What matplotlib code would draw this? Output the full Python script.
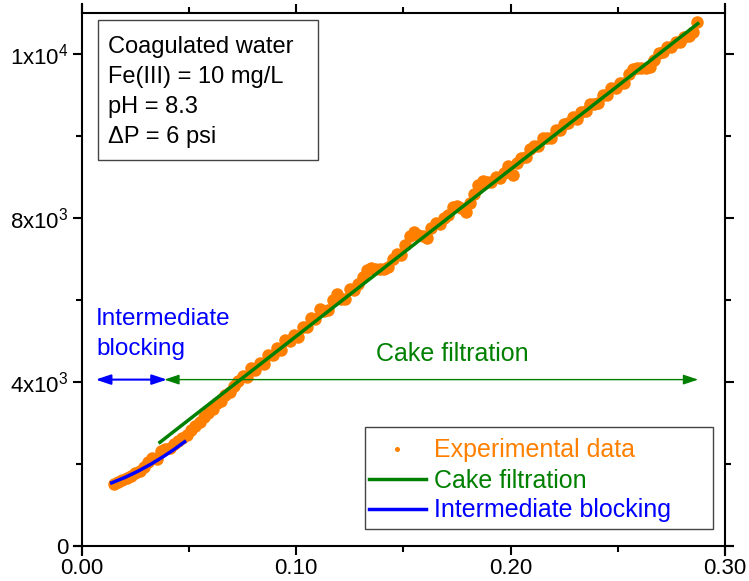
import matplotlib
matplotlib.use("Agg")
import matplotlib.pyplot as plt
from matplotlib.lines import Line2D
from matplotlib.patches import Rectangle

plt.rcParams['font.family'] = ['Liberation Sans', 'DejaVu Sans']
plt.rcParams['mathtext.fontset'] = 'custom'
plt.rcParams['mathtext.rm'] = 'Liberation Sans'
plt.rcParams['mathtext.it'] = 'Liberation Sans:italic'

# ---------------- data ----------------
x_data = [0.015, 0.017, 0.019, 0.021, 0.023, 0.025, 0.027, 0.029, 0.031, 0.033,
          0.035, 0.037, 0.039, 0.041, 0.043, 0.045, 0.047,
          0.049, 0.051, 0.053, 0.055, 0.057, 0.059, 0.061, 0.063, 0.065, 0.067,
          0.069, 0.071, 0.073, 0.075, 0.077, 0.079, 0.081, 0.083, 0.085, 0.087,
          0.089, 0.091, 0.093, 0.095, 0.097, 0.099, 0.101, 0.103, 0.105, 0.107,
          0.109, 0.111, 0.113, 0.115, 0.117, 0.119, 0.121, 0.123, 0.125, 0.127,
          0.129, 0.131, 0.133, 0.135, 0.137, 0.139, 0.141, 0.143, 0.145, 0.147,
          0.149, 0.151, 0.153, 0.155, 0.157, 0.159, 0.161, 0.163, 0.165, 0.167,
          0.169, 0.171, 0.173, 0.175, 0.177, 0.179, 0.181, 0.183, 0.185, 0.187,
          0.189, 0.191, 0.193, 0.195, 0.197, 0.199, 0.201, 0.203, 0.205, 0.207,
          0.209, 0.211, 0.213, 0.215, 0.217, 0.219, 0.221, 0.223, 0.225, 0.227,
          0.229, 0.231, 0.233, 0.235, 0.237, 0.239, 0.241, 0.243, 0.245, 0.247,
          0.249, 0.251, 0.253, 0.255, 0.257, 0.259, 0.261, 0.263, 0.265, 0.267,
          0.269, 0.271, 0.273, 0.275, 0.277, 0.279, 0.281, 0.283, 0.285, 0.287]
y_data = [1500, 1540, 1600, 1640, 1700, 1760, 1830, 1920, 2050, 2130,
          2100, 2300, 2360, 2380, 2470, 2560, 2620,
          2700, 2810, 2910, 3020, 3130, 3240, 3340, 3480, 3520, 3680,
          3750, 3890, 4010, 4150, 4110, 4330, 4290, 4460, 4420, 4640,
          4660, 4820, 4780, 5020, 4990, 5130, 5090, 5330, 5330, 5550,
          5540, 5780, 5720, 5760, 6000, 6140, 6020, 6010, 6250, 6230,
          6390, 6550, 6730, 6770, 6740, 6740, 6740, 6800, 7000, 7120,
          7080, 7330, 7550, 7650, 7590, 7550, 7510, 7740, 7880, 7840,
          8000, 8060, 8260, 8300, 8230, 8150, 8350, 8570, 8790, 8910,
          8880, 8880, 9000, 8960, 9100, 9260, 9040, 9350, 9470, 9490,
          9690, 9750, 9750, 9950, 9940, 9940, 10140, 10140, 10280, 10320,
          10470, 10410, 10590, 10610, 10790, 10790, 10810, 11000, 11000, 11180,
          11180, 11300, 11280, 11500, 11630, 11650, 11650, 11650, 11690, 11850,
          12020, 12040, 12180, 12160, 12300, 12300, 12420, 12430, 12530, 12770]

cake_x = [0.0365, 0.2873]
cake_y = [2520, 12740]

inter_x = [0.014, 0.020, 0.026, 0.032, 0.038, 0.043, 0.048]
inter_y = [1530, 1658, 1807, 1978, 2168, 2342, 2532]

x_ticks = [0.0, 0.10, 0.20, 0.30]
x_ticklabels = ['0.00', '0.10', '0.20', '0.30']
x_minor = [0.05, 0.15, 0.25]
y_ticks = [0, 4000, 8000, 12000]
y_ticklabels = ['0', r'$\mathregular{4x10^{3}}$', r'$\mathregular{8x10^{3}}$',
                r'$\mathregular{1x10^{4}}$']
y_minor = [2000, 6000, 10000]

info_lines = ['Coagulated water', 'Fe(III) = 10 mg/L', 'pH = 8.3', '\u0394P = 6 psi']
legend_labels = ['Experimental data', 'Cake filtration', 'Intermediate blocking']

ORANGE = '#FF8000'
GREEN = '#008000'
BLUE = '#0000FF'

# ---------------- figure ----------------
W, H = 749, 581
AX_L, AX_R, AX_T, AX_B = 81.7, 725.0, 13.0, 545.5
fig = plt.figure(figsize=(W / 100, H / 100), dpi=100)
ax = fig.add_axes([AX_L / W, 1 - AX_B / H, (AX_R - AX_L) / W, (AX_B - AX_T) / H])
ax.set_xlim(0, 0.30)
ax.set_ylim(0, 13000)


def fx(px):
    return (px - AX_L) / (AX_R - AX_L)


def fy(py):
    return (AX_B - py) / (AX_B - AX_T)


ax.plot(x_data, y_data, 'o', color=ORANGE, ms=9, mew=0, label=legend_labels[0], zorder=2)
ax.plot(cake_x, cake_y, '-', color=GREEN, lw=2.5, label=legend_labels[1], zorder=3)
ax.plot(inter_x, inter_y, '-', color=BLUE, lw=2.5, label=legend_labels[2], zorder=3)

# arrows
arrow_y = 4050
ax.annotate('', xy=(0.0065, arrow_y), xytext=(0.0398, arrow_y),
            arrowprops=dict(arrowstyle='<|-|>,head_length=0.9,head_width=0.3',
                            color=BLUE, lw=1.5, shrinkA=0, shrinkB=0), zorder=4)
ax.annotate('', xy=(0.0385, arrow_y), xytext=(0.2875, arrow_y),
            arrowprops=dict(arrowstyle='<|-|>,head_length=0.9,head_width=0.3',
                            color=GREEN, lw=1.0, shrinkA=0, shrinkB=0), zorder=4)

ax.text(fx(96), fy(325), 'Intermediate', transform=ax.transAxes, color=BLUE,
        fontsize=17.5, va='baseline', ha='left')
ax.text(fx(96), fy(355), 'blocking', transform=ax.transAxes, color=BLUE,
        fontsize=17.5, va='baseline', ha='left')
ax.text(fx(376), fy(361), 'Cake filtration', transform=ax.transAxes, color=GREEN,
        fontsize=18, va='baseline', ha='left')

# info box
ax.add_patch(Rectangle((fx(97.5), fy(160)), fx(318) - fx(97.5), fy(20) - fy(160),
                       transform=ax.transAxes, fill=False, edgecolor='#444444',
                       lw=1.0, zorder=5))
for i, line in enumerate(info_lines):
    ax.text(fx(108), fy(53 + 30 * i), line, transform=ax.transAxes, fontsize=17,
            va='baseline', ha='left', color='black', zorder=6)

# legend
ax.add_patch(Rectangle((fx(365), fy(529)), fx(713) - fx(365), fy(427) - fy(529),
                       transform=ax.transAxes, fill=False, edgecolor='#444444',
                       lw=1.0, zorder=5))
leg = ax.legend(loc='upper left', bbox_to_anchor=(fx(366), fy(436)), frameon=False,
                fontsize=18, handlelength=2.3, handletextpad=0.3, labelspacing=0.24,
                borderpad=0.1, borderaxespad=0, markerscale=0.4,
                labelcolor='linecolor')

# ticks
ax.set_xticks(x_ticks)
ax.set_xticklabels(x_ticklabels)
ax.set_xticks(x_minor, minor=True)
ax.set_yticks(y_ticks)
ax.set_yticklabels(y_ticklabels)
ax.set_yticks(y_minor, minor=True)
ax.tick_params(which='both', direction='out', width=1.5, top=True, right=True,
               labelsize=16)
ax.tick_params(which='major', length=6.3, pad=3)
ax.tick_params(which='minor', length=4.5)

# spines (Origin style, slightly overextended)
for s in ax.spines.values():
    s.set_visible(False)
ex = 8 / (AX_R - AX_L)
ey = 9 / (AX_B - AX_T)
kw = dict(transform=ax.transAxes, color='black', lw=1.5, clip_on=False, zorder=7)
ax.add_line(Line2D([-ex, 1 + ex], [0, 0], **kw))
ax.add_line(Line2D([0, 1], [1, 1], **kw))
ax.add_line(Line2D([0, 0], [-ey, 1 + ey], **kw))
ax.add_line(Line2D([1, 1], [-ey, 1 + ey], **kw))

fig.savefig('out.png', dpi=100)
